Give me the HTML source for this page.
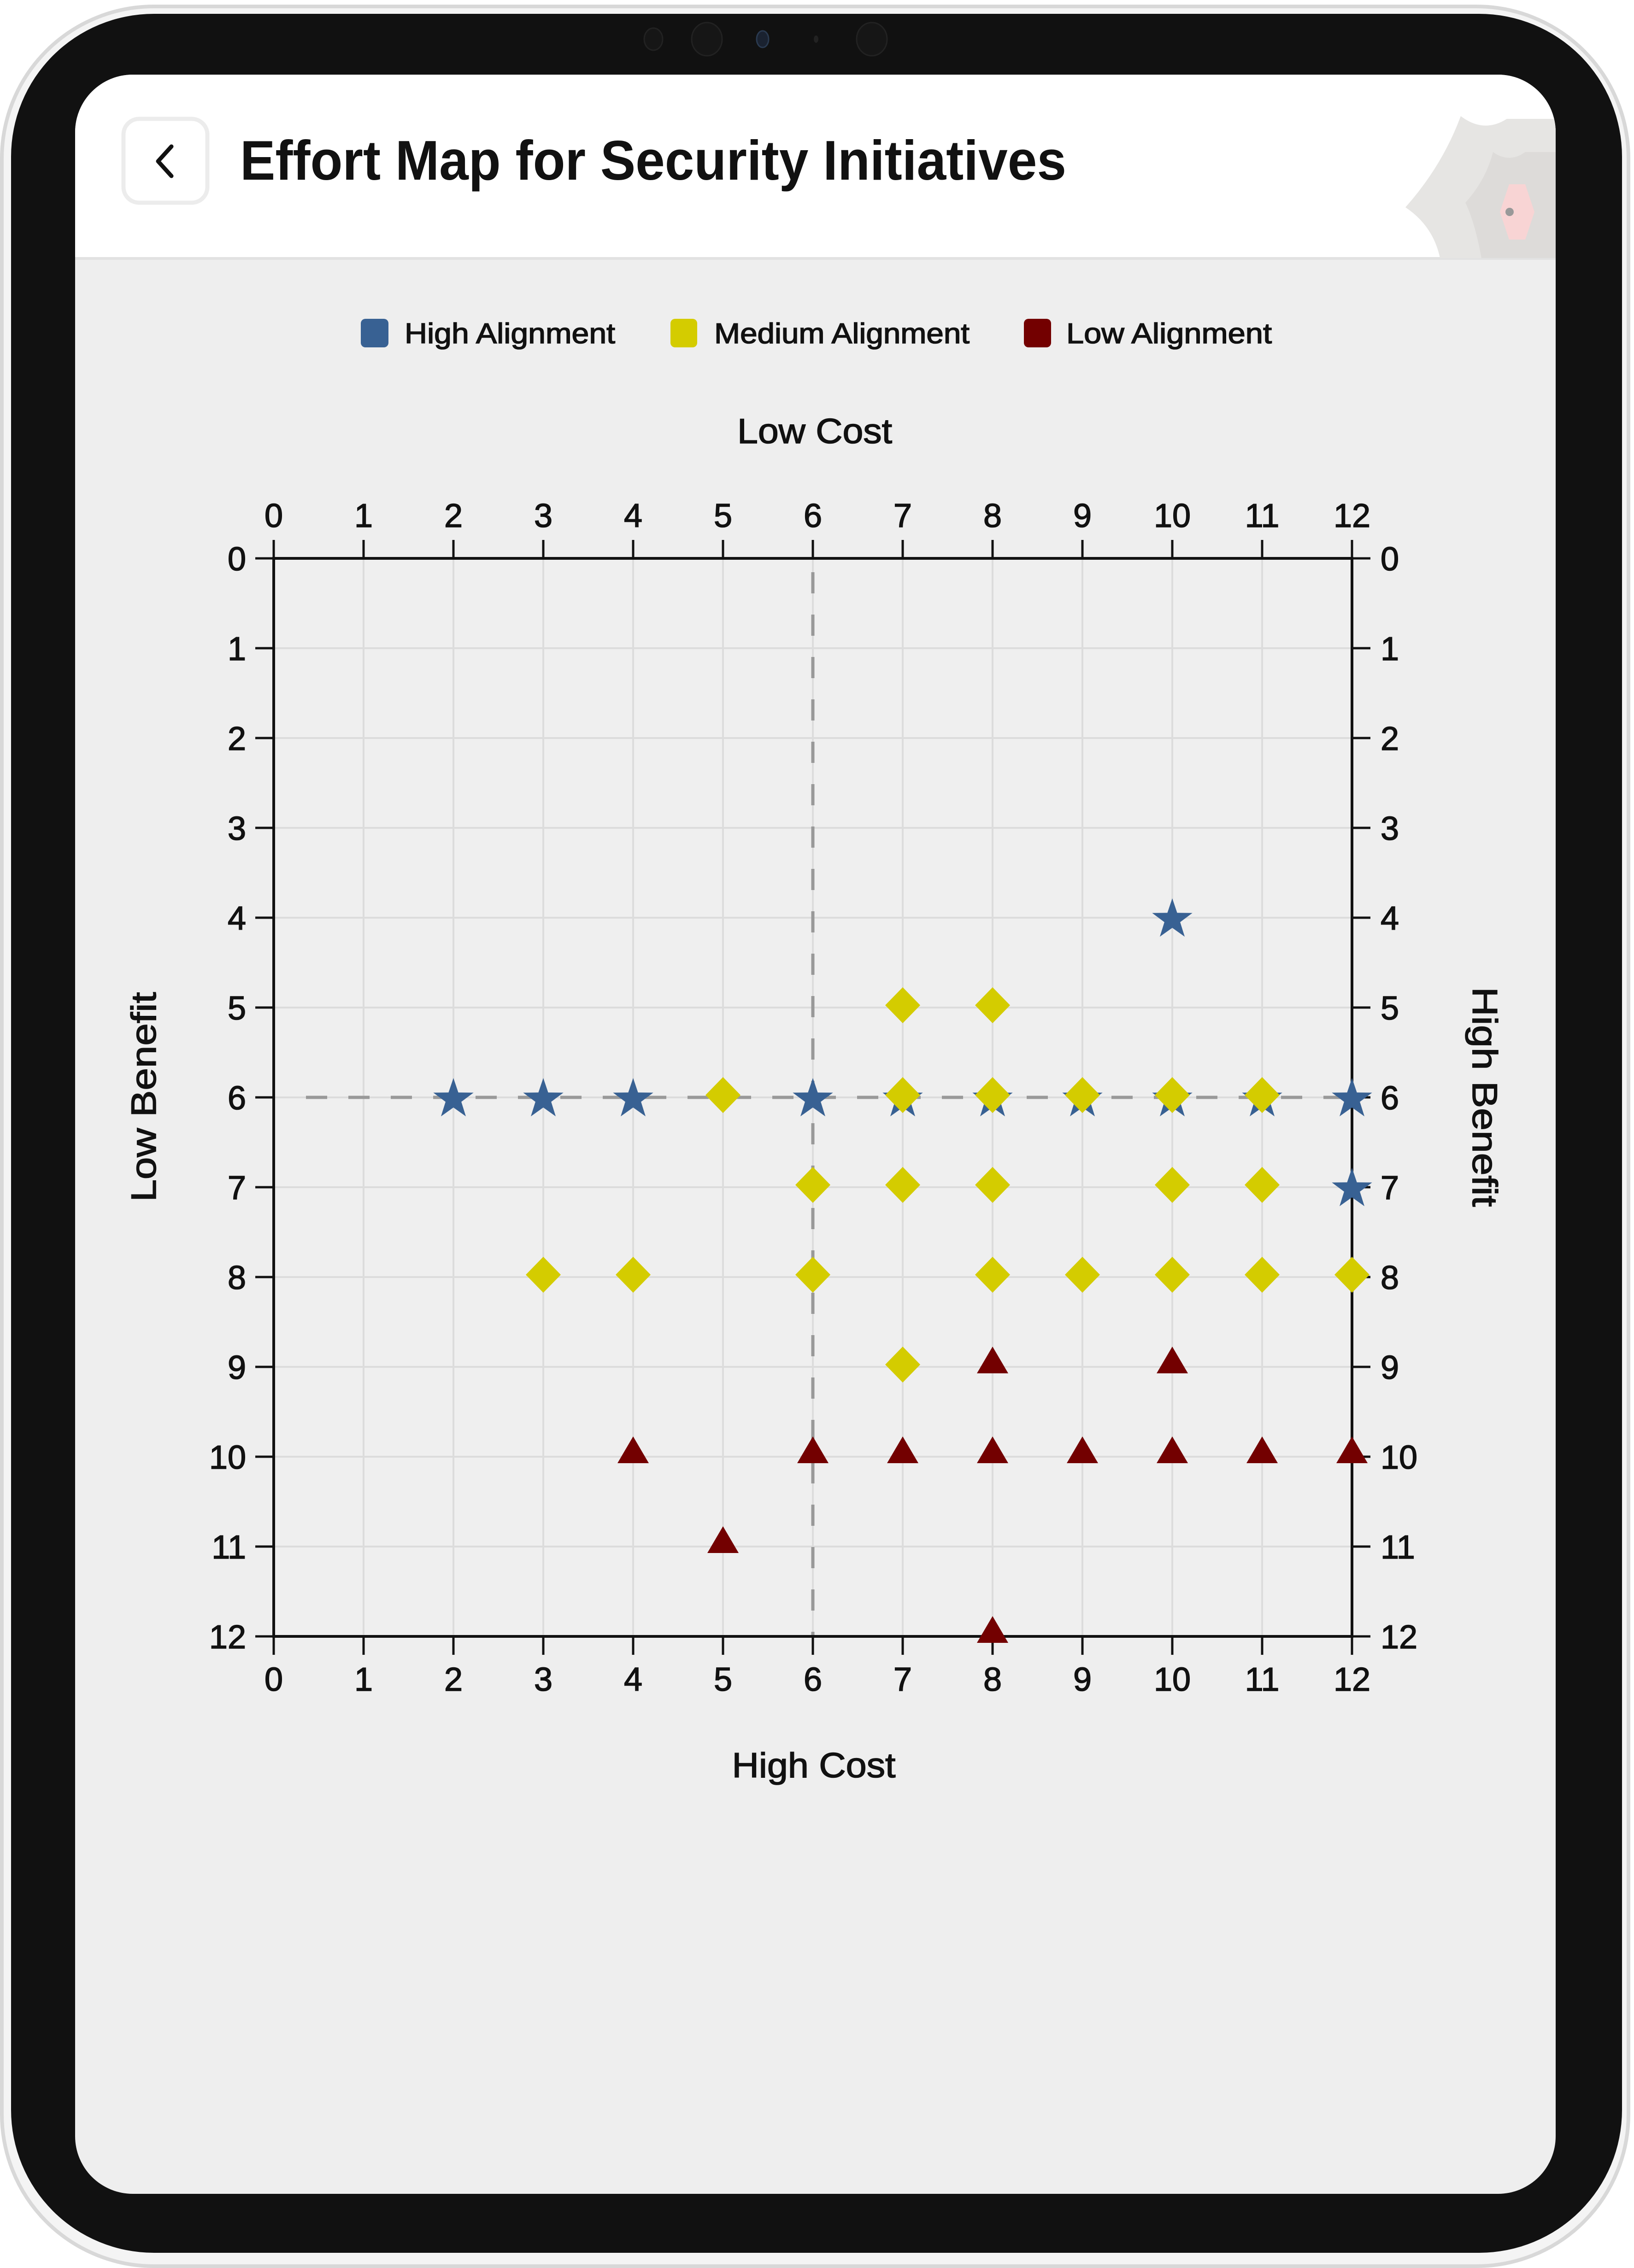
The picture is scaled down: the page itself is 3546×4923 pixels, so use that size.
<!DOCTYPE html>
<html><head><meta charset="utf-8"><style>
html,body{margin:0;padding:0;background:#fff;}
svg{display:block;}
text{font-family:"Liberation Sans",sans-serif;fill:#111;}
.semi{stroke:#111;stroke-width:1.6px;}
</style></head><body>
<svg id="root" width="3546" height="4923" viewBox="0 0 3546 4923" xmlns="http://www.w3.org/2000/svg">
<rect x="4" y="14" width="3530" height="4905" rx="330" fill="#f4f4f4" stroke="#d8d8d8" stroke-width="8"/>
<rect x="24" y="30" width="3496" height="4860" rx="310" fill="#111"/>
<g>
<ellipse cx="1418" cy="85" rx="20" ry="24" fill="#161616" stroke="#222" stroke-width="3"/>
<ellipse cx="1534" cy="85" rx="33" ry="36" fill="#161616" stroke="#222" stroke-width="3"/>
<ellipse cx="1655" cy="85" rx="13" ry="18" fill="#1a2230" stroke="#2a3a50" stroke-width="3"/>
<ellipse cx="1771" cy="85" rx="5" ry="8" fill="#222"/>
<ellipse cx="1892" cy="85" rx="33" ry="36" fill="#161616" stroke="#222" stroke-width="3"/>
</g>
<clipPath id="screenClip"><rect x="163" y="162" width="3213" height="4600" rx="125"/></clipPath>
<g clip-path="url(#screenClip)">
<rect x="163" y="162" width="3213" height="4600" fill="#eeeeee"/>
<rect x="163" y="162" width="3213" height="398" fill="#ffffff"/>
<rect x="163" y="558" width="3213" height="6" fill="#e2e2e2"/>
<g>
<path d="M3170 252 Q3220 290 3270 258 L3376 258 L3376 560 L3125 560 Q3110 490 3050 450 Q3130 360 3170 252 Z" fill="#e6e5e3"/>
<path d="M3240 330 Q3275 355 3310 330 L3376 330 L3376 560 L3215 560 Q3200 480 3180 440 Q3225 390 3240 330Z" fill="#dddbd9"/>
<polygon points="3275,400 3310,400 3330,460 3310,520 3275,520 3255,460" fill="#f8d4d4"/>
<circle cx="3276" cy="460" r="9" fill="#999"/>
</g>
<rect x="268" y="258" width="182" height="182" rx="34" fill="#fff" stroke="#ececec" stroke-width="9"/>
<path d="M372 318 L343 350 L372 382" fill="none" stroke="#111" stroke-width="9" stroke-linecap="round" stroke-linejoin="round"/>
<text x="521" y="390" font-size="122" font-weight="bold" textLength="1793" lengthAdjust="spacingAndGlyphs">Effort Map for Security Initiatives</text>
</g>
<g id="legend">
<g><rect x="783" y="692" width="60" height="62" rx="10" fill="#386193"/><text class="semi" x="878" y="745" font-size="62" textLength="457" lengthAdjust="spacingAndGlyphs">High Alignment</text></g>
<g><rect x="1455" y="692" width="58" height="62" rx="10" fill="#d4cc00"/><text class="semi" x="1550" y="745" font-size="62" textLength="554" lengthAdjust="spacingAndGlyphs">Medium Alignment</text></g>
<g><rect x="2222" y="692" width="59" height="62" rx="10" fill="#730000"/><text class="semi" x="2314" y="745" font-size="62" textLength="446" lengthAdjust="spacingAndGlyphs">Low Alignment</text></g>
</g>
<text class="semi" x="1768" y="962" font-size="76" text-anchor="middle" textLength="336" lengthAdjust="spacingAndGlyphs">Low Cost</text>
<text class="semi" x="1766" y="3858" font-size="76" text-anchor="middle" textLength="355" lengthAdjust="spacingAndGlyphs">High Cost</text>
<text class="semi" transform="translate(338,2381) rotate(-90)" font-size="76" text-anchor="middle" textLength="455" lengthAdjust="spacingAndGlyphs">Low  Benefit</text>
<text class="semi" transform="translate(3196,2381) rotate(90)" font-size="76" text-anchor="middle" textLength="477" lengthAdjust="spacingAndGlyphs">High  Benefit</text>
<g id="chart"></g>
</svg>
<script>
const xTicks = [0,1,2,3,4,5,6,7,8,9,10,11,12];
const yTicks = [0,1,2,3,4,5,6,7,8,9,10,11,12];
const highX = [10,2,3,4,6,7,8,9,10,11,12,12];
const highY = [4,6,6,6,6,6,6,6,6,6,6,7];
const medX = [7,8,5,7,8,9,10,11,6,7,8,10,11,3,4,6,8,9,10,11,12,7];
const medY = [5,5,6,6,6,6,6,6,7,7,7,7,7,8,8,8,8,8,8,8,8,9];
const lowX = [8,10,4,6,7,8,9,10,11,12,5,8];
const lowY = [9,9,10,10,10,10,10,10,10,10,11,12];
const refX = 6, refY = 6;

const NS = "http://www.w3.org/2000/svg";
const L = 594, R = 2934, T = 1212, B = 3552;
const sx = v => L + (v - 0) / 12 * (R - L);
const sy = v => T + (v - 0) / 12 * (B - T);
const g = document.getElementById('chart');
function mk(tag, attrs, parent) {
  const e = document.createElementNS(NS, tag);
  for (const k in attrs) e.setAttribute(k, attrs[k]);
  (parent || g).appendChild(e);
  return e;
}
mk('rect', {x: L, y: T, width: R - L, height: B - T, fill: '#efefef'});
xTicks.forEach(t => {
  const l = mk('line', {x1: sx(t), x2: sx(t), y1: T, y2: B, stroke: '#dcdcdc', 'stroke-width': 4});
  
  
});
yTicks.forEach(t => {
  const l = mk('line', {x1: L, x2: R, y1: sy(t), y2: sy(t), stroke: '#dcdcdc', 'stroke-width': 4});
  
  
});
const vref = mk('line', {x1: sx(refX), x2: sx(refX), y1: T + 30, y2: B, stroke: '#999', 'stroke-width': 7, 'stroke-dasharray': '46 46'});


const href = mk('line', {x1: L + 70, x2: R, y1: sy(refY), y2: sy(refY), stroke: '#999', 'stroke-width': 7, 'stroke-dasharray': '46 46'});


const frame = mk('rect', {x: L, y: T, width: R - L, height: B - T, fill: 'none', stroke: '#111', 'stroke-width': 6});


xTicks.forEach(t => {
  mk('line', {x1: sx(t), x2: sx(t), y1: T - 40, y2: T, stroke: '#111', 'stroke-width': 5});
  mk('line', {x1: sx(t), x2: sx(t), y1: B, y2: B + 40, stroke: '#111', 'stroke-width': 5});
  const a = mk('text', {x: sx(t), y: T - 68, 'font-size': 72, 'text-anchor': 'middle', class: 'semi'});
  a.textContent = t;
  
  
  const b = mk('text', {x: sx(t), y: B + 118, 'font-size': 72, 'text-anchor': 'middle', class: 'semi'});
  b.textContent = t;
  
  
});
yTicks.forEach(t => {
  mk('line', {x1: L - 40, x2: L, y1: sy(t), y2: sy(t), stroke: '#111', 'stroke-width': 5});
  mk('line', {x1: R, x2: R + 40, y1: sy(t), y2: sy(t), stroke: '#111', 'stroke-width': 5});
  const a = mk('text', {x: L - 60, y: sy(t) + 26, 'font-size': 72, 'text-anchor': 'end', class: 'semi'});
  a.textContent = t;
  
  
  const b = mk('text', {x: R + 62, y: sy(t) + 26, 'font-size': 72, 'text-anchor': 'start', class: 'semi'});
  b.textContent = t;
  
  
});
function starPts(cx, cy, ro, ri) {
  const p = [];
  for (let i = 0; i < 10; i++) {
    const r = i % 2 ? ri : ro, a = -Math.PI / 2 + i * Math.PI / 5;
    p.push((cx + r * Math.cos(a)).toFixed(1) + ',' + (cy + 4 + r * Math.sin(a)).toFixed(1));
  }
  return p.join(' ');
}
highX.forEach((x, i) => {
  const s = mk('polygon', {points: starPts(sx(x), sy(highY[i]), 46, 18), fill: '#386193'});
  
  
});
medX.forEach((x, i) => {
  const cx = sx(x), cy = sy(medY[i]) - 5;
  const d = mk('polygon', {points: `${cx},${cy-39} ${cx+38},${cy} ${cx},${cy+39} ${cx-38},${cy}`, fill: '#d4cc00'});
  
  
});
lowX.forEach((x, i) => {
  const cx = sx(x), cy = sy(lowY[i]);
  const t = mk('polygon', {points: `${cx},${cy-44} ${cx+34},${cy+14} ${cx-34},${cy+14}`, fill: '#730000'});
  
  
});
</script>
</body></html>
